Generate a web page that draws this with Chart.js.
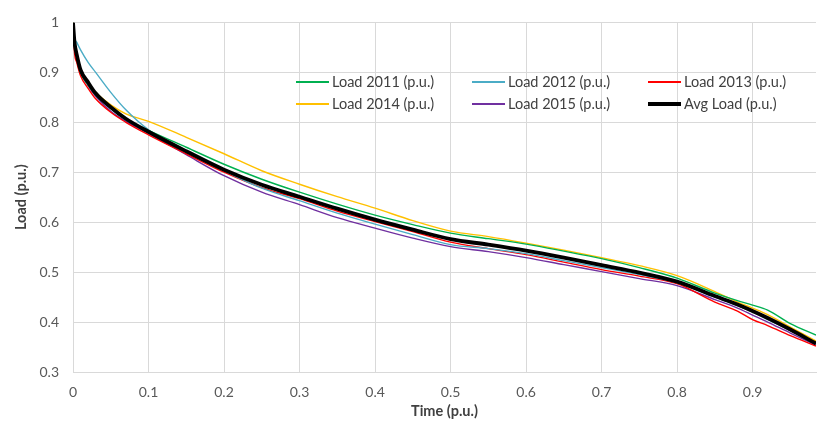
<!DOCTYPE html>
<html>
<head>
<meta charset="utf-8">
<script src="https://cdn.jsdelivr.net/npm/chart.js@4/dist/chart.umd.min.js"></script>
<style>
html,body{margin:0;padding:0;background:#fff;}
#wrap{width:817px;height:426px;position:relative;}
</style>
</head>
<body>
<div id="wrap"><canvas id="c" width="817" height="426"></canvas></div>
<script>
const timePU = [0, 0.002, 0.005, 0.01, 0.02, 0.03, 0.05, 0.07, 0.1, 0.15, 0.2, 0.25, 0.3, 0.35, 0.4, 0.45, 0.5, 0.55, 0.6, 0.65, 0.7, 0.75, 0.8, 0.85, 0.88, 0.9, 0.92, 0.95, 0.984];
const load2011 = [1.0, 0.955, 0.93, 0.9, 0.875, 0.855, 0.828, 0.806, 0.784, 0.75, 0.716, 0.686, 0.66, 0.636, 0.614, 0.595, 0.578, 0.567, 0.556, 0.542, 0.527, 0.509, 0.488, 0.458, 0.443, 0.434, 0.424, 0.397, 0.374];
const load2012 = [1.0, 0.97, 0.96, 0.945, 0.92, 0.9, 0.86, 0.825, 0.785, 0.74, 0.703, 0.668, 0.643, 0.618, 0.596, 0.575, 0.555, 0.547, 0.537, 0.523, 0.509, 0.495, 0.479, 0.45, 0.433, 0.42, 0.405, 0.383, 0.356];
const load2013 = [1.0, 0.94, 0.92, 0.893, 0.868, 0.847, 0.82, 0.8, 0.775, 0.737, 0.7, 0.669, 0.647, 0.622, 0.601, 0.581, 0.56, 0.547, 0.535, 0.52, 0.505, 0.492, 0.477, 0.44, 0.422, 0.405, 0.393, 0.373, 0.352];
const load2014 = [1.0, 0.96, 0.935, 0.905, 0.88, 0.86, 0.835, 0.817, 0.802, 0.77, 0.737, 0.703, 0.676, 0.651, 0.628, 0.603, 0.582, 0.571, 0.558, 0.544, 0.529, 0.513, 0.493, 0.461, 0.44, 0.428, 0.415, 0.39, 0.362];
const load2015 = [1.0, 0.955, 0.93, 0.9, 0.873, 0.852, 0.822, 0.802, 0.778, 0.735, 0.693, 0.66, 0.635, 0.609, 0.588, 0.568, 0.551, 0.541, 0.529, 0.515, 0.501, 0.487, 0.473, 0.445, 0.428, 0.414, 0.4, 0.378, 0.354];
const loadAvg = [1.0, 0.96, 0.935, 0.905, 0.88, 0.858, 0.83, 0.807, 0.781, 0.742, 0.705, 0.675, 0.651, 0.627, 0.605, 0.585, 0.566, 0.555, 0.543, 0.529, 0.514, 0.499, 0.481, 0.452, 0.435, 0.422, 0.408, 0.385, 0.357];
const seriesLabels = ["Load 2011 (p.u.)", "Load 2012 (p.u.)", "Load 2013 (p.u.)", "Load 2014 (p.u.)", "Load 2015 (p.u.)", "Avg Load (p.u.)"];
const xTicks = [0, 0.1, 0.2, 0.3, 0.4, 0.5, 0.6, 0.7, 0.8, 0.9];
const yTicks = [0.3, 0.4, 0.5, 0.6, 0.7, 0.8, 0.9, 1];

const colors = ["#00B050", "#4BACC6", "#FF0000", "#FFC000", "#7030A0", "#000000"];
const widths = [1.4, 1.4, 1.4, 1.4, 1.4, 3.8];
const allSeries = [load2011, load2012, load2013, load2014, load2015, loadAvg];

const datasets = allSeries.map((arr, i) => ({
  label: seriesLabels[i],
  data: arr.map((v, k) => ({x: timePU[k], y: v})),
  borderColor: colors[i],
  backgroundColor: colors[i],
  borderWidth: widths[i],
  pointRadius: 0,
  cubicInterpolationMode: 'monotone',
  fill: false
}));
datasets[5].order = -1;

const FONT = "Lato, 'Open Sans', sans-serif";

const insideLegend = {
  id: 'insideLegend',
  afterDatasetsDraw(chart) {
    const ctx = chart.ctx;
    const colX = [296, 472, 648];
    const rowY = [82, 104];
    ctx.save();
    ctx.font = "14.5px " + FONT;
    ctx.textBaseline = 'middle';
    ctx.textAlign = 'left';
    chart.data.datasets.forEach((ds, i) => {
      const cx = colX[i % 3], cy = rowY[Math.floor(i / 3)];
      ctx.strokeStyle = ds.borderColor;
      ctx.lineWidth = i === 5 ? 4 : 2;
      ctx.beginPath();
      ctx.moveTo(cx, cy);
      ctx.lineTo(cx + 33, cy);
      ctx.stroke();
      ctx.fillStyle = '#404040';
      ctx.fillText(ds.label, cx + 36, cy);
    });
    ctx.restore();
  }
};

new Chart(document.getElementById('c'), {
  type: 'line',
  data: { datasets },
  plugins: [insideLegend],
  options: {
    responsive: false,
    animation: false,
    layout: { padding: { top: 15, right: 1, left: 0, bottom: 0 } },
    plugins: { legend: { display: false }, tooltip: { enabled: false } },
    scales: {
      x: {
        type: 'linear',
        min: 0, max: 0.984,
        afterFit(s) { s.height = 54; },
        afterBuildTicks(s) { s.ticks = xTicks.map(v => ({value: v})); },
        ticks: { color: '#595959', font: { family: FONT, size: 14 }, padding: 12, maxRotation: 0,
          callback: v => String(v) },
        grid: { color: '#d9d9d9', lineWidth: 1, drawTicks: false },
        border: { color: '#d9d9d9' },
        title: { display: true, text: 'Time (p.u.)', color: '#404040',
          font: { family: FONT, size: 14.5, weight: 'bold' }, padding: { top: 0, bottom: 6 } }
      },
      y: {
        min: 0.3, max: 1,
        afterFit(s) { s.width = 73; },
        afterBuildTicks(s) { s.ticks = yTicks.map(v => ({value: v})); },
        ticks: { color: '#595959', font: { family: FONT, size: 14 }, padding: 14,
          callback: v => String(Math.round(v * 10) / 10) },
        grid: { color: '#d9d9d9', lineWidth: 1, drawTicks: false },
        border: { color: '#d9d9d9' },
        title: { display: true, text: 'Load (p.u.)', color: '#404040',
          font: { family: FONT, size: 14.5, weight: 'bold' }, padding: { top: 13, bottom: 4 } }
      }
    }
  }
});
</script>
</body>
</html>
